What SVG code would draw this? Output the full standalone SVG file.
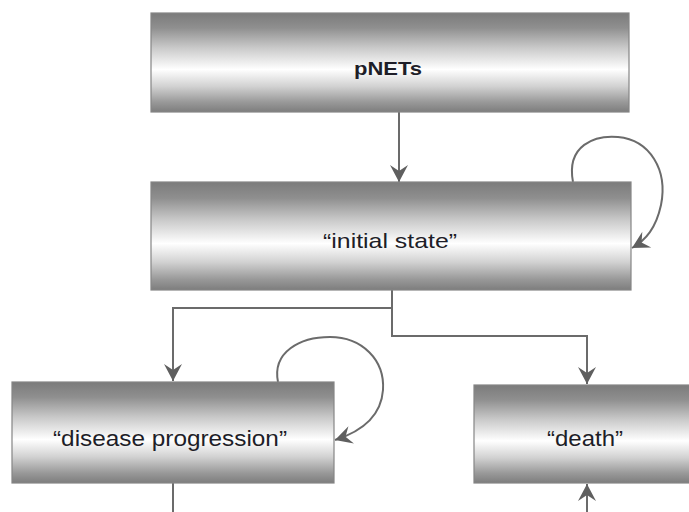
<svg xmlns="http://www.w3.org/2000/svg" width="689" height="512" viewBox="0 0 689 512">
<style>
.box{fill:url(#chrome);stroke:#858585;stroke-width:1.2}
.lbl{font-family:"Liberation Sans",Arial,sans-serif;fill:#1e1e28;text-anchor:middle}
.conn{fill:none;stroke:#6b6b6b;stroke-width:2}
</style>
<defs>
<linearGradient id="chrome" x1="0" y1="0" x2="0" y2="1">
<stop offset="0" stop-color="#7b7b7b"/>
<stop offset="0.15" stop-color="#8f8f8f"/>
<stop offset="0.35" stop-color="#c9c9c9"/>
<stop offset="0.57" stop-color="#ffffff"/>
<stop offset="0.74" stop-color="#d2d2d2"/>
<stop offset="0.9" stop-color="#999999"/>
<stop offset="1" stop-color="#7d7d7d"/>
</linearGradient>
<marker id="arr" markerUnits="userSpaceOnUse" markerWidth="20" markerHeight="20" viewBox="-18 -10 20 20" refX="0" refY="0" orient="auto">
<path d="M0,0 L-17,-9 L-11,0 L-17,9 Z" fill="#5f5f5f"/>
</marker>
</defs>
<g id="connectors">
<path class="conn" d="M399,112 L399,182" marker-end="url(#arr)"/>
<path class="conn" d="M392,290 L392,308 L173,308 L173,381" marker-end="url(#arr)"/>
<path class="conn" d="M392,308 L392,336 L587,336 L587,384" marker-end="url(#arr)"/>
<path class="conn" d="M573,182 C566,145 595,135 618,137 C650,140 668,170 661,205 C656,228 646,240 632,248" marker-end="url(#arr)"/>
<path class="conn" d="M278,382 C272,352 300,337 330,337 C362,337 385,360 383,390 C381,418 360,432 335,440" marker-end="url(#arr)"/>
<path class="conn" d="M173,483 L173,512"/>
<path class="conn" d="M587,512 L587,484" marker-end="url(#arr)"/>
</g>
<g id="node-pnets">
<rect class="box" x="151" y="13" width="478" height="99"/>
<text class="lbl" x="388" y="75" font-size="19" font-weight="bold" textLength="68" lengthAdjust="spacingAndGlyphs">pNETs</text>
</g>
<g id="node-initial">
<rect class="box" x="151" y="182" width="480" height="108"/>
<text class="lbl" x="390" y="248" font-size="21" textLength="134" lengthAdjust="spacingAndGlyphs">“initial state”</text>
</g>
<g id="node-progression">
<rect class="box" x="12" y="382" width="322" height="101"/>
<text class="lbl" x="170" y="446" font-size="22" textLength="234" lengthAdjust="spacingAndGlyphs">“disease progression”</text>
</g>
<g id="node-death">
<rect class="box" x="474" y="385" width="222" height="98"/>
<text class="lbl" x="585" y="446" font-size="22" textLength="76" lengthAdjust="spacingAndGlyphs">“death”</text>
</g>
</svg>
